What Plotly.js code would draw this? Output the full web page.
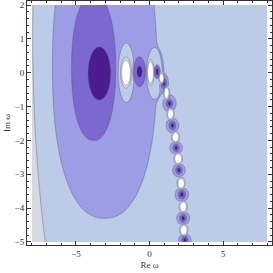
<!DOCTYPE html>
<html><head><meta charset="utf-8">
<script src="https://cdn.plot.ly/plotly-3.0.1.min.js"></script>
<style>html,body{margin:0;padding:0;background:#fff}</style>
</head><body><div id="plot" style="width:273px;height:273px"></div>
<script>
// Region levels: 0 white, 1 gray, 2 light blue, 3 periwinkle, 4 medium purple, 5 dark purple
const levelNames = ['white','gray','light blue','periwinkle','medium purple','dark purple'];
const levelColors = ['#ffffff','#d3d9df','#bccbe8','#9d9de6','#7b69d1','#4b1c8e'];

// Large lobes
const lobeCX    = [8.00, -3.05, -3.80, -3.41,  0.38,  0.33, -1.58];
const lobeCY    = [1.00,  0.20,  0.15, -0.02, -0.02, -0.02,  0.00];
const lobeA     = [15.94, 3.55,  1.50,  0.76,  0.60,  0.53,  0.55];
const lobeB     = [18.60, 4.50,  2.15,  0.78,  0.84,  0.76,  0.88];
const lobeP     = [2,     2.3,   2.2,   2,     2,     2,     2];
const lobeLevel = [2,     3,     4,     5,     3,     2,     2];

// Poles (dark centres) along the chain
const poleX = [-0.68, 0.52, 0.99, 1.36, 1.56, 1.81, 2.00, 2.20, 2.29, 2.40];
const poleY = [ 0.03, 0.03,-0.33,-0.91,-1.56,-2.22,-2.88,-3.60,-4.30,-4.94];
const periA = [0.41, 0.20, 0.30, 0.45, 0.43, 0.43, 0.43, 0.46, 0.44, 0.42];
const periB = [0.44, 0.20, 0.30, 0.26, 0.22, 0.19, 0.20, 0.21, 0.20, 0.19];
const medA  = [0.41, 0.18, 0.18, 0.23, 0.23, 0.22, 0.22, 0.25, 0.23, 0.22];
const medB  = [0.44, 0.18, 0.16, 0.13, 0.13, 0.11, 0.12, 0.13, 0.12, 0.12];
const darkA = [0.17, 0.07, 0.07, 0.09, 0.09, 0.08, 0.09, 0.10, 0.09, 0.09];
const darkB = [0.16, 0.09, 0.06, 0.06, 0.06, 0.05, 0.055,0.06, 0.055,0.05];

// Zeros (white centres)
const zeroX  = [-1.60, 0.07, 0.82, 1.16, 1.43, 1.77, 1.95, 2.15, 2.29, 2.33];
const zeroY  = [ 0.00, 0.01,-0.16,-0.60,-1.22,-1.90,-2.54,-3.27,-3.96,-4.65];
const rimA   = [0.37, 0.26, 0.20, 0.21, 0.25, 0.27, 0.29, 0.28, 0.28, 0.28];
const rimB   = [0.45, 0.37, 0.17, 0.20, 0.18, 0.17, 0.18, 0.18, 0.18, 0.18];
const whiteA = [0.30, 0.20, 0.15, 0.16, 0.20, 0.22, 0.23, 0.22, 0.22, 0.22];
const whiteB = [0.37, 0.32, 0.13, 0.16, 0.14, 0.13, 0.14, 0.14, 0.14, 0.14];

const xMin = -8, xMax = 8, yMin = -5, yMax = 2;
const nx = 535, ny = 351;
const dx = (xMax - xMin) / (nx - 1), dy = (yMax - yMin) / (ny - 1);
const xs = [], ys = [];
for (let i = 0; i < nx; i++) xs.push(xMin + dx * i);
for (let j = 0; j < ny; j++) ys.push(yMin + dy * j);
const F = [];
for (let j = 0; j < ny; j++) F.push(new Array(nx).fill(1));

function paint(cx, cy, a, b, p, level) {
  const k = Math.max(14, Math.min(a, b) / 0.05);
  const reach = 1 + 8 / k;
  const i0 = Math.max(0, Math.floor((cx - reach * a - xMin) / dx));
  const i1 = Math.min(nx - 1, Math.ceil((cx + reach * a - xMin) / dx));
  const j0 = Math.max(0, Math.floor((cy - reach * b - yMin) / dy));
  const j1 = Math.min(ny - 1, Math.ceil((cy + reach * b - yMin) / dy));
  for (let j = j0; j <= j1; j++) {
    const v = (ys[j] - cy) / b;
    const row = F[j];
    for (let i = i0; i <= i1; i++) {
      const u = (xs[i] - cx) / a;
      const rho = p === 2 ? Math.sqrt(u * u + v * v)
        : Math.pow(Math.pow(Math.abs(u), p) + Math.pow(Math.abs(v), p), 1 / p);
      if (rho > reach) continue;
      const s = 1 / (1 + Math.exp(k * (rho - 1)));
      row[i] += (level - row[i]) * s;
    }
  }
}

for (let n = 0; n < lobeCX.length; n++) paint(lobeCX[n], lobeCY[n], lobeA[n], lobeB[n], lobeP[n], lobeLevel[n]);
for (let n = 0; n < poleX.length; n++) {
  paint(poleX[n], poleY[n], periA[n], periB[n], 2, 3);
  paint(poleX[n], poleY[n], medA[n], medB[n], 2, 4);
  paint(poleX[n], poleY[n], darkA[n], darkB[n], 2, 5);
}
for (let n = 0; n < zeroX.length; n++) {
  paint(zeroX[n], zeroY[n], rimA[n], rimB[n], 2, 1);
  paint(zeroX[n], zeroY[n], whiteA[n], whiteB[n], 2, 0);
}

const c = levelColors;
const colorscale = [
  [0, c[0]], [0.2, c[0]], [0.2, c[1]], [0.4, c[1]], [0.4, c[2]], [0.6, c[2]],
  [0.6, c[3]], [0.8, c[3]], [0.8, c[4]], [0.95, c[4]], [0.95, c[5]], [1, c[5]]
];

const trace = {
  type: 'contour', x: xs, y: ys, z: F,
  autocontour: false,
  contours: {start: 0.5, end: 4.5, size: 1, coloring: 'fill'},
  colorscale: colorscale, showscale: false,
  line: {color: 'rgba(70,70,95,0.6)', width: 0.6, smoothing: 1},
  hoverinfo: 'skip'
};

const tickFont = {family: 'Liberation Serif, serif', size: 9, color: '#333'};
const layout = {
  width: 273, height: 273,
  margin: {l: 27, r: 1, t: 1, b: 28},
  paper_bgcolor: '#fff', plot_bgcolor: '#fff',
  showlegend: false,
  xaxis: {
    range: [-8.33, 8.33], showgrid: false, zeroline: false,
    showline: true, linecolor: '#333', linewidth: 1, mirror: 'allticks',
    ticks: 'inside', ticklen: 4, tickcolor: '#333', tickwidth: 1,
    tickvals: [-5, 0, 5], ticktext: ['\u22125', '0', '5'], tickfont: tickFont,
    minor: {ticks: 'inside', ticklen: 2, dtick: 1, tick0: 0, tickcolor: '#333', showgrid: false},
    title: {text: 'Re ω', font: tickFont, standoff: 3}
  },
  yaxis: {
    range: [-5.09, 2.12], showgrid: false, zeroline: false,
    showline: true, linecolor: '#333', linewidth: 1, mirror: 'allticks',
    ticks: 'inside', ticklen: 4, tickcolor: '#333', tickwidth: 1,
    dtick: 1, tick0: 0, tickfont: tickFont,
    minor: {ticks: 'inside', ticklen: 2, dtick: 0.2, tick0: 0, tickcolor: '#333', showgrid: false},
    title: {text: 'Im ω', font: tickFont, standoff: 2}
  }
};

Plotly.newPlot('plot', [trace], layout, {staticPlot: true, displayModeBar: false});
</script>
</body></html>
